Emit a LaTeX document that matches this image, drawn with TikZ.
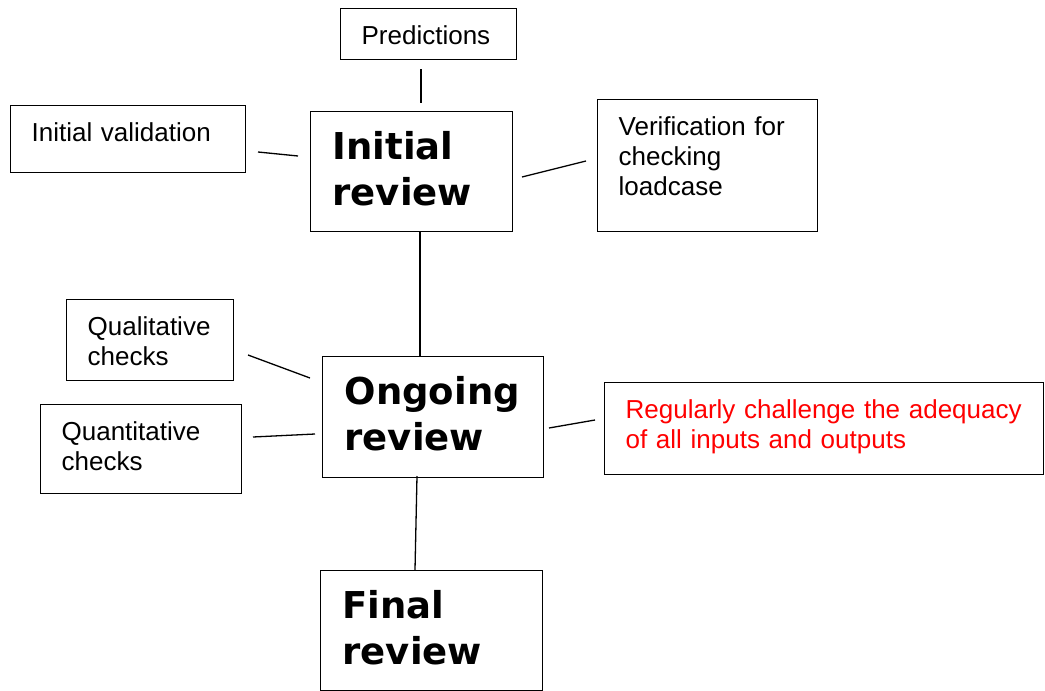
\documentclass[tikz,border=0pt]{standalone}
\usepackage{fontspec}
\setmainfont{Liberation Sans}
\newfontfamily\headfont{DejaVu Sans}
\begin{document}
\begin{tikzpicture}[x=1pt, y=-1pt,
  box/.style={draw=black, line width=1.3pt, anchor=north west, align=left, inner ysep=0pt},
  note/.style={box, inner xsep=21pt, font=\fontsize{26}{30}\selectfont, text height=36pt},
  stage/.style={box, inner xsep=22pt, font=\headfont\bfseries\fontsize{37}{46}\selectfont, text height=48pt},
  link/.style={line width=1.3pt}]
\useasboundingbox (0,0) rectangle (1045,691);

% review stages
\node[stage, text width=158pt, text depth=72pt] (initrev) at (310,111) {Initial\\review};
\node[stage, text width=177pt, text depth=73pt] (ongoing) at (322,356) {Ongoing\\review};
\node[stage, text width=178pt, text depth=72pt] (final)   at (320,570) {Final\\review};

% activities attached to the stages
\node[note, text width=134pt, text depth=15pt] (pred)    at (340,8)   {Predictions};
\node[note, text width=193pt, text depth=31pt] (initval) at (10,105)  {Initial validation};
\node[note, text width=178pt, text depth=96pt] (verif)   at (597,99)  {Verification for\\checking\\loadcase};
\node[note, text width=125pt, text depth=45pt] (qual)    at (66,299)  {Qualitative\\checks};
\node[note, text width=159pt, text depth=53pt] (quant)   at (40,404)  {Quantitative\\checks};
\node[note, text width=397pt, text depth=56pt, text=red] (reg) at (604,382) {Regularly challenge the adequacy\\of all inputs and outputs};

% connector end points
\coordinate (predA) at (421,69);   \coordinate (predB) at (421,103);
\coordinate (ivA)   at (258,152);  \coordinate (ivB)   at (298,156);
\coordinate (vfA)   at (522,177);  \coordinate (vfB)   at (586,161);
\coordinate (irA)   at (420,231);  \coordinate (ogA)   at (420,356);
\coordinate (qlA)   at (248,355);  \coordinate (qlB)   at (310,378);
\coordinate (qnA)   at (253,437);  \coordinate (qnB)   at (315,434);
\coordinate (rgA)   at (549,428);  \coordinate (rgB)   at (595,420);
\coordinate (ogB)   at (417,476);  \coordinate (fnA)   at (415,570);

% connectors
\draw[link] (predA) -- (predB);
\draw[link] (ivA) -- (ivB);
\draw[link] (vfA) -- (vfB);
\draw[link] (irA) -- (ogA);
\draw[link] (qlA) -- (qlB);
\draw[link] (qnA) -- (qnB);
\draw[link] (rgA) -- (rgB);
\draw[link] (ogB) -- (fnA);
\end{tikzpicture}
\end{document}
